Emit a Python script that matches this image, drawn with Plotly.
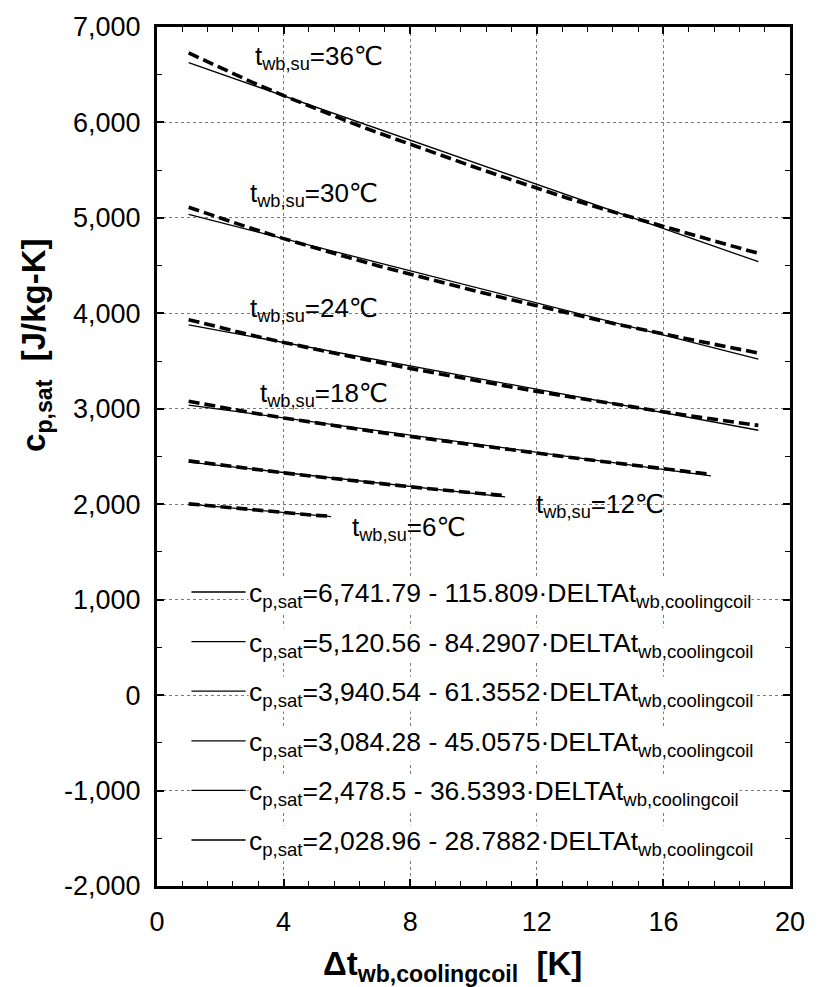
import plotly.graph_objects as go

# ---------------- data ----------------
temps = [36, 30, 24, 18, 12, 6]

dt_36 = [1, 2, 3, 4, 5, 6, 7, 8, 9, 10, 11, 12, 13, 14, 15, 16, 17, 18, 19]
cp_36 = [6728, 6572, 6422, 6281, 6145, 6015, 5890, 5769, 5652, 5536,
         5422, 5310, 5204, 5102, 5005, 4909, 4815, 4721, 4629]

dt_30 = [1, 2, 3, 4, 5, 6, 7, 8, 9, 10, 11, 12, 13, 14, 15, 16, 17, 18, 19]
cp_30 = [5111, 4997, 4888, 4783, 4684, 4589, 4497, 4409, 4323, 4240,
         4157, 4077, 4000, 3925, 3853, 3782, 3715, 3649, 3585]

dt_24 = [1, 2, 3, 4, 5, 6, 7, 8, 9, 10, 11, 12, 13, 14, 15, 16, 17, 18, 19]
cp_24 = [3934, 3850, 3770, 3695, 3623, 3553, 3487, 3423, 3360, 3299,
         3240, 3182, 3127, 3073, 3019, 2968, 2918, 2871, 2826]

dt_18 = [1, 2, 3, 4, 5, 6, 7, 8, 9, 10, 11, 12, 13, 14, 15, 16, 17, 17.5]
cp_18 = [3079, 3016, 2958, 2904, 2852, 2803, 2755, 2709, 2664, 2620,
         2577, 2535, 2493, 2451, 2411, 2371, 2332, 2313]

dt_12 = [1, 2, 3, 4, 5, 6, 7, 8, 9, 10, 11]
cp_12 = [2454, 2410, 2369, 2329, 2291, 2253, 2218, 2183, 2150, 2118, 2089]

dt_6 = [1, 2, 3, 4, 5, 5.5]
cp_6 = [2004, 1972, 1942, 1912, 1884, 1873]

# linear fit lines (end points)
fit_dt_36, fit_cp_36 = [1, 19], [6626, 4541]
fit_dt_30, fit_cp_30 = [1, 19], [5036, 3519]
fit_dt_24, fit_cp_24 = [1, 19], [3879, 2775]
fit_dt_18, fit_cp_18 = [1, 17.5], [3039, 2296]
fit_dt_12, fit_cp_12 = [1, 11], [2442, 2077]
fit_dt_6, fit_cp_6 = [1, 5.5], [2000, 1871]

eq_intercepts = ["6,741.79", "5,120.56", "3,940.54", "3,084.28", "2,478.5", "2,028.96"]
eq_slopes = ["115.809", "84.2907", "61.3552", "45.0575", "36.5393", "28.7882"]

y_tick_vals = [-2000, -1000, 0, 1000, 2000, 3000, 4000, 5000, 6000, 7000]
y_tick_text = ["-2,000", "-1,000", "0", "1,000", "2,000", "3,000", "4,000", "5,000", "6,000", "7,000"]
x_tick_vals = [0, 4, 8, 12, 16, 20]
x_tick_text = ["0", "4", "8", "12", "16", "20"]

# ---------------- layout constants ----------------
W, H = 817, 987
L, R, T, B = 157, 17, 27, 101
FONT = "Arial, Liberation Sans, DejaVu Sans, sans-serif"

def px_x(px):
    return (px - L) / (W - L - R)

def px_y(py):
    return (H - B - py) / (H - T - B)

fig = go.Figure()

data_series = [(dt_36, cp_36), (dt_30, cp_30), (dt_24, cp_24),
               (dt_18, cp_18), (dt_12, cp_12), (dt_6, cp_6)]
fit_series = [(fit_dt_36, fit_cp_36), (fit_dt_30, fit_cp_30), (fit_dt_24, fit_cp_24),
              (fit_dt_18, fit_cp_18), (fit_dt_12, fit_cp_12), (fit_dt_6, fit_cp_6)]

for t, (fx, fy) in zip(temps, fit_series):
    fig.add_trace(go.Scatter(x=fx, y=fy, mode="lines", name=f"fit {t}",
                             line=dict(color="black", width=1.3), showlegend=False))
for t, (dx, dy) in zip(temps, data_series):
    fig.add_trace(go.Scatter(x=dx, y=dy, mode="lines", name=f"t_wb,su={t}",
                             line=dict(color="black", width=3.6, dash="11px,5px"),
                             showlegend=False))

# curve labels (positions in data coordinates)
label_pos = [(3.02, 6680), (2.89, 5240), (2.89, 4035), (3.20, 3145), (11.91, 1990), (6.10, 1750)]
annotations = []
for t, (lx, ly) in zip(temps, label_pos):
    annotations.append(dict(x=lx, y=ly, xref="x", yref="y", xanchor="left", yanchor="middle",
                            text=f"t<sub>wb,su</sub>={t}℃", showarrow=False,
                            font=dict(family=FONT, size=26, color="black")))

# manual legend
shapes = []
for i, (a, b) in enumerate(zip(eq_intercepts, eq_slopes)):
    rowy = 592 + 49.6 * i
    shapes.append(dict(type="line", xref="paper", yref="paper",
                       x0=px_x(192), x1=px_x(247), y0=px_y(rowy), y1=px_y(rowy),
                       line=dict(color="black", width=1.3)))
    annotations.append(dict(x=px_x(249), y=px_y(rowy + 3), xref="paper", yref="paper",
                            xanchor="left", yanchor="middle", showarrow=False,
                            bgcolor="white", borderpad=0,
                            text=f"c<sub>p,sat</sub>={a} - {b}·DELTAt<sub>wb,coolingcoil</sub>",
                            font=dict(family=FONT, size=26.5, color="black")))

# axis titles
annotations.append(dict(x=px_x(457), y=px_y(966), xref="paper", yref="paper",
                        xanchor="center", yanchor="middle", showarrow=False,
                        text="<b>Δt<sub>wb,coolingcoil</sub>  [K]</b>",
                        font=dict(family=FONT, size=33, color="black")))
annotations.append(dict(x=px_x(34), y=px_y(345), xref="paper", yref="paper",
                        xanchor="center", yanchor="middle", showarrow=False, textangle=-90,
                        text="<b>c<sub>p,sat</sub>  [J/kg-K]</b>",
                        font=dict(family=FONT, size=33, color="black")))

axis_common = dict(showline=True, linecolor="black", linewidth=3, mirror="allticks",
                   ticks="inside", ticklen=7, tickwidth=1.5, tickcolor="black",
                   showgrid=True, gridcolor="#7a7a7a", griddash="dot", gridwidth=1,
                   zeroline=False,
                   tickfont=dict(family=FONT, size=27, color="black"))

fig.update_xaxes(range=[0, 20], tickvals=x_tick_vals, ticktext=x_tick_text,
                 ticklabelstandoff=10,
                 minor=dict(dtick=0.8, tick0=0, ticks="inside", ticklen=5, tickwidth=1.3,
                            tickcolor="black", showgrid=False),
                 **axis_common)
fig.update_yaxes(range=[-2000, 7000], tickvals=y_tick_vals, ticktext=y_tick_text,
                 ticklabelstandoff=8,
                 minor=dict(dtick=500, tick0=0, ticks="inside", ticklen=5, tickwidth=1.3,
                            tickcolor="black", showgrid=False),
                 **axis_common)

fig.update_layout(width=W, height=H, margin=dict(l=L, r=R, t=T, b=B),
                  paper_bgcolor="white", plot_bgcolor="white",
                  annotations=annotations, shapes=shapes, showlegend=False,
                  font=dict(family=FONT, color="black"))

fig.write_html("out.html")
